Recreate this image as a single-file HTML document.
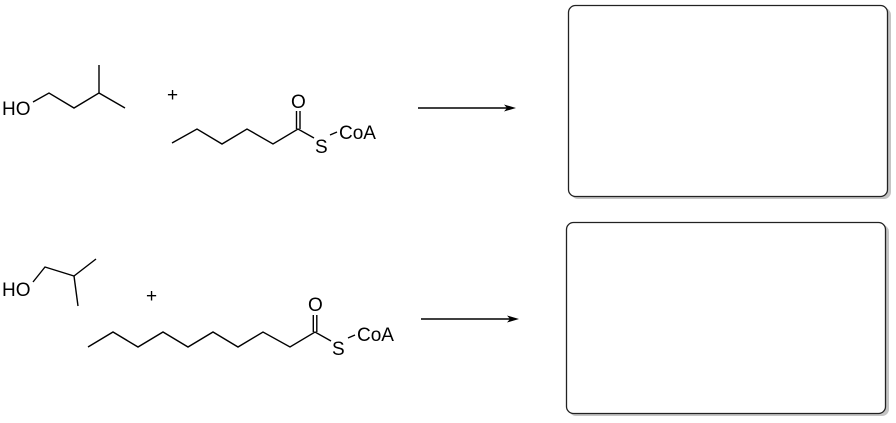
<!DOCTYPE html>
<html><head><style>html,body{margin:0;padding:0;background:#fff;width:896px;height:423px;overflow:hidden}
text{font-family:"Liberation Sans",sans-serif;font-size:19px}</style></head>
<body>
<svg width="896" height="423" viewBox="0 0 896 423" xmlns="http://www.w3.org/2000/svg">
<g fill="none" stroke="#000" stroke-width="1.4">
<polyline points="33,102 49,93 74,108 99,93 99,65"/>
<line x1="99" y1="93" x2="125" y2="108"/>
<polyline points="172,143 197,129 222,144 247,129 273,144 298,129 314,138"/>
<line x1="296.5" y1="129" x2="296.5" y2="111"/>
<line x1="300" y1="129" x2="300" y2="111"/>
<line x1="330" y1="135" x2="337" y2="132"/>
<polyline points="33,282 45,267 74,276 96,259"/>
<line x1="74" y1="276" x2="78" y2="306"/>
<polyline points="88,347 113,332 138,347 163,332 188,347 213,332 238,347 263,332 290,347 315,332 331,341"/>
<line x1="313.3" y1="332" x2="313.3" y2="315"/>
<line x1="316.8" y1="332" x2="316.8" y2="315"/>
<line x1="348" y1="338" x2="355" y2="335"/>
<line x1="418" y1="108" x2="508" y2="108"/>
<line x1="421" y1="319" x2="511" y2="319"/>
</g>
<polygon points="516,108 504,104.5 507,108 504,111.5" fill="#000"/>
<polygon points="519,319 507,315.5 510,319 507,322.5" fill="#000"/>
<g fill="#000">
<text x="2" y="115">HO</text>
<text x="291" y="108">O</text>
<text x="315" y="153">S</text>
<text x="339" y="139">CoA</text>
<text x="2" y="296">HO</text>
<text x="308" y="311">O</text>
<text x="332" y="355">S</text>
<text x="357" y="341">CoA</text>
<text x="167" y="101">+</text>
<text x="146" y="302">+</text>
</g>
<rect x="571" y="8" width="320" height="191" rx="7" fill="#c4c4c4"/>
<rect x="568.5" y="5.5" width="319" height="191" rx="7" fill="#fff" stroke="#222" stroke-width="1.3"/>
<rect x="569" y="225" width="320" height="191" rx="7" fill="#c4c4c4"/>
<rect x="566.5" y="222.5" width="319" height="191" rx="7" fill="#fff" stroke="#222" stroke-width="1.3"/>
</svg>
</body></html>
